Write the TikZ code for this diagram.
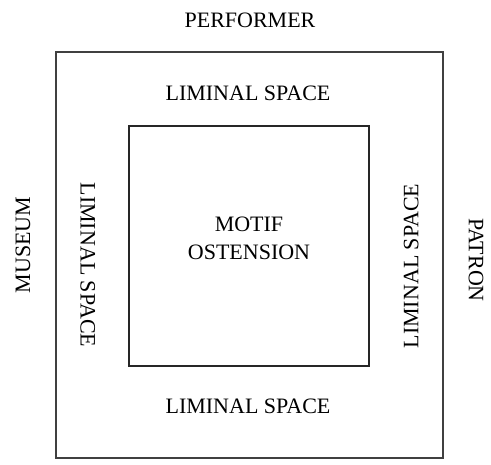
\documentclass[tikz,border=0pt]{standalone}
\usepackage{fontspec}
\setmainfont{Liberation Serif}
\begin{document}
\begin{tikzpicture}[x=1pt,y=-1pt,
  lbl/.style={inner sep=0pt, font=\fontsize{22}{28}\selectfont, align=center, text height=14.5pt, text depth=0pt},
  frame/.style={draw=black!75, line width=1.4pt}]
\useasboundingbox (0,0) rectangle (491,465);
\node[frame, minimum width=387pt, minimum height=406pt, inner sep=0pt] (outer) at (249.5,255) {};
\node[frame, draw=black!85, line width=1.2pt, minimum width=240pt, minimum height=240pt, inner sep=0pt] (inner) at (249,246) {};
\node[lbl] (performer) at (250,20) {PERFORMER};
\node[lbl] (ltop) at (248,93) {LIMINAL SPACE};
\node[lbl] (lbot) at (248,406) {LIMINAL SPACE};
\node[lbl, text height=, text depth=] (motif) at (249,238) {MOTIF\\OSTENSION};
\node[lbl, rotate=-90] (lleft) at (88,265) {LIMINAL SPACE};
\node[lbl, rotate=90] (lright) at (411,266) {LIMINAL SPACE};
\node[lbl, rotate=90] (museum) at (23,245) {MUSEUM};
\node[lbl, rotate=-90] (patron) at (476,260) {PATRON};
\end{tikzpicture}
\end{document}
